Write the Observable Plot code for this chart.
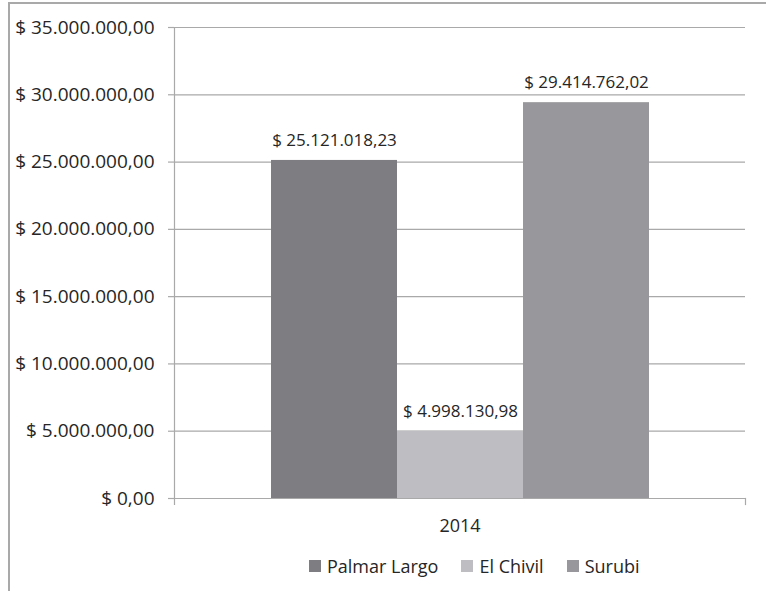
<!DOCTYPE html>
<html><head><meta charset="utf-8">
<script src="https://cdn.jsdelivr.net/npm/d3@7"></script>
<script src="https://cdn.jsdelivr.net/npm/@observablehq/plot@0.6"></script>
<style>
body{margin:0;background:#fff;overflow:hidden;}
#wrap{position:relative;width:766px;height:591px;overflow:hidden;font-family:"Open Sans",sans-serif;color:#262626;}
#border{position:absolute;left:8px;top:2px;width:900px;height:700px;border-left:2px solid #a9a9a9;border-top:2px solid #a9a9a9;box-sizing:border-box;}
#chart{position:absolute;left:0;top:0;}
#legend{position:absolute;left:309px;top:554px;display:flex;align-items:center;font-size:18px;line-height:24px;}
.item{display:flex;align-items:center;margin-right:23px;}
.sw{width:12px;height:12px;margin-right:6px;}
</style></head>
<body>
<div id="wrap"><div id="border"></div><div id="chart"></div><div id="legend"></div></div>
<script>
const years = ["2014"];
const series = ["Palmar Largo", "El Chivil", "Surubi"];
const values = [25121018.23, 4998130.98, 29414762.02];
const yTicks = [0, 5000000, 10000000, 15000000, 20000000, 25000000, 30000000, 35000000];
const colors = ["#7e7e82", "#bebec2", "#98989c"];

const data = series.map((s, i) => ({year: years[0], series: s, value: values[i]}));
const loc = d3.formatLocale({decimal: ",", thousands: ".", grouping: [3], currency: ["$ ", ""]});
const fmt = loc.format("$,.2f");

const W = 766, H = 545, mL = 174, mR = 21, mT = 27, mB = 47;
const innerH = H - mT - mB;
const grid = "#a9a9a9";

const chart = Plot.plot({
  width: W, height: H,
  marginLeft: mL, marginRight: mR, marginTop: mT, marginBottom: mB,
  style: {fontFamily: "'Open Sans', sans-serif", background: "transparent", color: "#262626"},
  fx: {domain: years, padding: 0},
  x: {domain: series, paddingInner: 0, paddingOuter: 0.75, axis: null},
  y: {domain: [0, 35000000]},
  color: {domain: series, range: colors},
  marks: [
    Plot.ruleY(yTicks, {stroke: grid, strokeWidth: 1.2}),
    Plot.frame({anchor: "left", stroke: grid, strokeWidth: 1.2, insetBottom: -6}),
    Plot.frame({anchor: "right", stroke: grid, strokeWidth: 1.2, insetTop: innerH, insetBottom: -6}),
    Plot.barY(data, {fx: "year", x: "series", y: "value", fill: "series"}),
    Plot.text(data, {fx: "year", x: "series", y: "value", text: d => fmt(d.value), dy: -20, fontSize: 17, fill: "#262626"}),
    Plot.axisY({ticks: yTicks, tickFormat: fmt, tickSize: 6, tickPadding: 14, fontSize: 19, stroke: grid, strokeWidth: 1.2, label: null}),
    Plot.axisFx({anchor: "bottom", tickSize: 0, tickPadding: 21, fontSize: 18, label: null})
  ]
});
document.getElementById("chart").append(chart);

const leg = document.getElementById("legend");
series.forEach((s, i) => {
  const it = document.createElement("div");
  it.className = "item";
  const sw = document.createElement("div");
  sw.className = "sw";
  sw.style.background = colors[i];
  const t = document.createElement("span");
  t.textContent = s;
  it.append(sw, t);
  leg.append(it);
});
</script>
</body></html>
